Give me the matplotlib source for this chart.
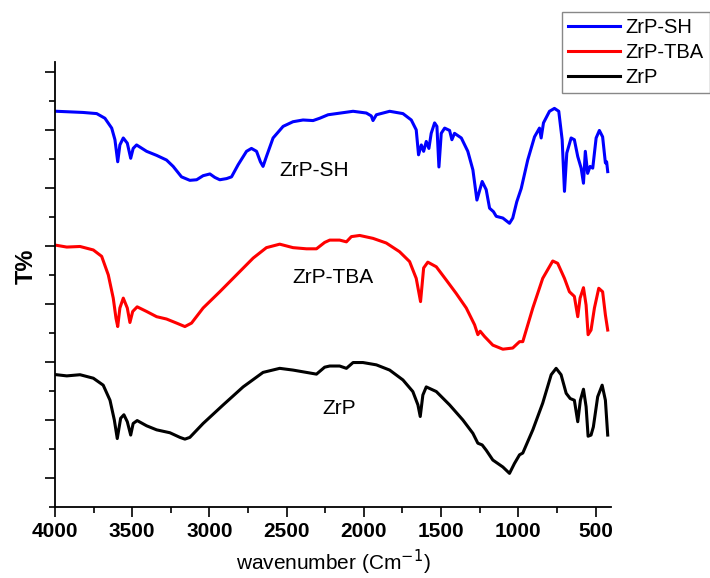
import matplotlib
matplotlib.use("Agg")
import matplotlib.pyplot as plt
from matplotlib.ticker import MultipleLocator, NullFormatter

plt.rcParams['font.family'] = ['Liberation Sans', 'DejaVu Sans']

# ZrP-SH (blue)
sh_wn = [3990, 3819, 3730, 3677, 3633, 3612, 3594, 3580, 3558, 3532, 3510, 3494, 3472, 3407,
         3342, 3278, 3235, 3181, 3127, 3083, 3041, 2997, 2965, 2933, 2889, 2857, 2814, 2760,
         2728, 2695, 2670, 2653, 2631, 2588, 2523, 2459, 2394, 2329, 2286, 2232, 2178, 2070,
         1984, 1952, 1941, 1919, 1833, 1747, 1693, 1661, 1646, 1628, 1613, 1596, 1579, 1564,
         1542, 1527, 1514, 1499, 1477, 1445, 1430, 1413, 1369, 1327, 1294, 1268, 1234, 1208,
         1186, 1161, 1143, 1100, 1057, 1036, 1010, 981, 939, 895, 863, 852, 837, 798, 766,
         738, 716, 701, 686, 658, 637, 615, 593, 578, 566, 551, 535, 518, 496, 475, 454, 436,
         428, 421]
sh_t = [68.2, 68.0, 67.8, 67.0, 65.3, 63.3, 59.5, 62.4, 63.6, 62.7, 60.1, 61.8, 62.4, 61.3,
        60.6, 59.8, 58.7, 56.9, 56.3, 56.4, 57.1, 57.4, 56.8, 56.4, 56.6, 56.9, 59.0, 61.3,
        61.8, 61.3, 59.5, 58.7, 60.4, 63.6, 65.6, 66.4, 66.7, 66.6, 67.0, 67.6, 67.8, 68.2,
        67.9, 67.4, 66.6, 67.6, 68.2, 67.8, 66.7, 65.0, 60.7, 62.4, 61.3, 63.0, 61.8, 64.4,
        66.2, 65.6, 58.6, 64.4, 65.3, 64.9, 63.3, 64.4, 63.6, 61.3, 58.1, 52.9, 56.1, 54.7,
        51.5, 50.9, 50.1, 49.8, 48.9, 49.8, 52.6, 54.9, 59.8, 63.8, 65.3, 63.6, 66.2, 68.2, 68.7,
        68.2, 63.3, 54.4, 61.0, 63.6, 63.3, 60.4, 58.4, 55.8, 61.3, 57.5, 58.7, 58.4, 63.6, 64.9, 63.8, 59.3,
        59.5, 57.8]

# ZrP-TBA (red)
tba_wn = [3990, 3924, 3838, 3752, 3698, 3655, 3623, 3605, 3594, 3580, 3558, 3532, 3515, 3497,
          3468, 3407, 3342, 3278, 3213, 3159, 3116, 3041, 2933, 2825, 2717, 2631, 2545, 2459,
          2372, 2307, 2254, 2221, 2157, 2113, 2081, 2027, 1941, 1855, 1769, 1704, 1661, 1633,
          1613, 1586, 1531, 1466, 1402, 1337, 1283, 1262, 1247, 1219, 1165, 1100, 1036, 992,
          971, 906, 842, 777, 745, 701, 669, 637, 615, 600, 578, 561, 548, 529, 507, 479, 454,
          436, 421]
tba_t = [45.1, 44.8, 44.9, 44.3, 43.2, 40.0, 36.0, 32.5, 31.1, 34.3, 36.0, 34.3, 31.8, 33.7,
         34.5, 33.7, 32.8, 32.4, 31.7, 31.1, 31.7, 34.3, 37.1, 40.0, 42.9, 44.7, 45.3, 44.7,
         44.5, 44.5, 45.6, 46.0, 46.0, 45.7, 46.6, 46.8, 46.3, 45.5, 44.0, 42.3, 39.4, 35.4,
         41.2, 42.2, 41.4, 39.1, 36.8, 34.3, 31.4, 29.7, 30.3, 29.4, 27.9, 27.2, 27.4, 28.5,
         28.5, 34.3, 39.4, 42.4, 42.0, 39.4, 37.1, 36.3, 32.8, 36.0, 37.8, 34.8, 29.7, 30.5, 34.3, 37.7, 37.1,
         33.1, 30.5]

# ZrP (black)
zrp_wn = [3990, 3924, 3838, 3752, 3688, 3644, 3616, 3597, 3575, 3554, 3532, 3510, 3494, 3468,
          3407, 3342, 3256, 3191, 3159, 3127, 3041, 2911, 2782, 2653, 2545, 2459, 2372, 2307,
          2254, 2221, 2157, 2113, 2070, 2006, 1919, 1833, 1747, 1683, 1650, 1635, 1618, 1596,
          1531, 1445, 1359, 1294, 1262, 1234, 1208, 1165, 1100, 1057, 1025, 992, 971, 906, 842,
          787, 755, 723, 690, 664, 637, 615, 598, 578, 561, 548, 529, 514, 486, 457, 436, 421]
zrp_t = [22.8, 22.6, 22.8, 22.2, 21.0, 18.4, 15.0, 11.8, 15.3, 15.9, 14.7, 12.4, 14.4, 14.9,
         14.0, 13.3, 12.8, 12.0, 11.7, 12.0, 14.4, 17.6, 20.7, 23.2, 23.9, 23.6, 23.2, 22.9,
         24.1, 24.3, 24.3, 23.9, 24.9, 24.9, 24.5, 23.6, 21.9, 19.9, 17.6, 15.6, 19.3, 20.7,
         19.9, 17.6, 15.0, 12.7, 11.0, 10.7, 9.8, 8.1, 6.9, 5.8, 7.5, 9.0, 9.3, 13.3, 17.9,
         22.8, 23.9, 22.8, 19.6, 18.7, 18.4, 14.7, 18.4, 20.3, 17.3, 12.2, 12.4, 13.8, 19.0,
         21.0, 18.4, 12.4]

fig = plt.figure(figsize=(7.1, 5.78), dpi=100)
ax = fig.add_axes([0.0775, 0.1228, 0.783, 0.770])

ax.plot(sh_wn, sh_t, color='#0000ff', lw=2.2, label='ZrP-SH')
ax.plot(tba_wn, tba_t, color='#ff0000', lw=2.2, label='ZrP-TBA')
ax.plot(zrp_wn, zrp_t, color='black', lw=2.2, label='ZrP')

ax.text(2320, 58.0, 'ZrP-SH', fontsize=15, ha='center', va='center')
ax.text(2202, 39.5, 'ZrP-TBA', fontsize=15, ha='center', va='center')
ax.text(2163, 17.0, 'ZrP', fontsize=15, ha='center', va='center')

ax.set_xlim(4000, 400)
ax.set_ylim(0, 76.7)
ax.xaxis.set_major_locator(MultipleLocator(500))
ax.xaxis.set_minor_locator(MultipleLocator(250))
ax.set_yticks([5, 15, 25, 35, 45, 55, 65, 75])
ax.set_yticks([0, 10, 20, 30, 40, 50, 60, 70], minor=True)
ax.yaxis.set_major_formatter(NullFormatter())
ax.tick_params(which='major', direction='out', length=7, width=1.2, labelsize=15)
ax.tick_params(which='minor', direction='out', length=4, width=1.2)
for lab in ax.get_xticklabels():
    lab.set_fontweight('bold')

ax.spines['top'].set_visible(False)
ax.spines['right'].set_visible(False)
ax.spines['left'].set_linewidth(1.3)
ax.spines['bottom'].set_linewidth(1.3)

ax.set_xlabel('wavenumber (Cm$^{-1}$)', fontsize=15, labelpad=5)
ax.set_ylabel('T%', fontsize=17, fontweight='bold')
ax.yaxis.set_label_coords(-0.031, 0.54)

leg = fig.legend(loc='upper left', bbox_to_anchor=(562 / 710, 1 - 12 / 578), fontsize=14.5,
                 handlelength=2.6, handletextpad=0.25, labelspacing=0.3, borderpad=0.3,
                 borderaxespad=0, fancybox=False, framealpha=1)
leg.get_frame().set_edgecolor('#888888')
leg.get_frame().set_linewidth(1)

fig.savefig('out.png', dpi=100)
